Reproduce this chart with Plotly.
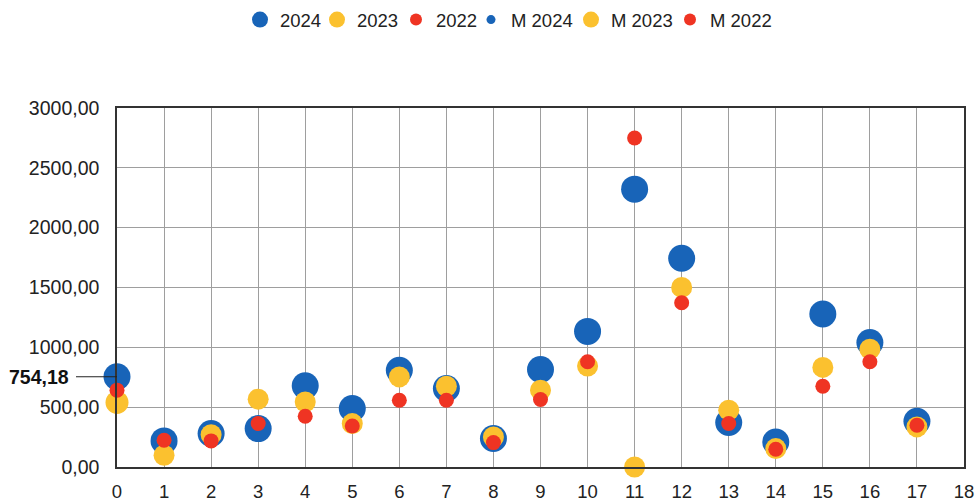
import plotly.graph_objects as go

# Positions 1..17 carry the yearly values; position 0 carries the averages (M series)
positions = list(range(1, 18))

values_2024 = [218, 280, 321, 678, 489, 809, 656, 238, 815, 1133, 2322, 1744, 372, 209, 1278, 1041, 382]
values_2023 = [98, 270, 567, 544, 363, 753, 675, 251, 642, 843, 0, 1501, 475, 154, 832, 985, 335]
values_2022 = [223, 218, 363, 424, 343, 558, 558, 204, 564, 879, 2749, 1373, 363, 148, 675, 879, 349]

mean_position = [0]
mean_2024 = [754.18]
mean_2023 = [540]
mean_2022 = [642]

x_ticks = list(range(0, 19))
y_ticks = [0, 500, 1000, 1500, 2000, 2500, 3000]

BLUE = "#1864b8"
YELLOW = "#fbc12f"
RED = "#ef3423"
FONT = "Liberation Sans, Arial, sans-serif"

fig = go.Figure()

# name, x, y, colour, marker size, legend symbol size, legend entry width
series = [
    ("2024", positions, values_2024, BLUE, 27, 18, 32),
    ("2023", positions, values_2023, YELLOW, 21, 17, 34),
    ("2022", positions, values_2022, RED, 15, 12, 30),
    ("M 2024", mean_position, mean_2024, BLUE, 27, 9, 55),
    ("M 2023", mean_position, mean_2023, YELLOW, 23, 18, 54),
    ("M 2022", mean_position, mean_2022, RED, 15, 12, 62),
]

for name, xs, ys, color, size, legend_size, legend_width in series:
    fig.add_trace(go.Scatter(
        x=xs, y=ys, mode="markers", name=name, legendgroup=name,
        showlegend=False, cliponaxis=False,
        marker=dict(color=color, size=size, line=dict(width=0)),
        hovertemplate="%{x}: %{y:.2f}<extra>" + name + "</extra>",
    ))
    # legend entry with its own symbol size
    fig.add_trace(go.Scatter(
        x=[None], y=[None], mode="markers", name=name, legendgroup=name,
        showlegend=True, legendwidth=legend_width,
        marker=dict(color=color, size=legend_size, line=dict(width=0)),
        hoverinfo="skip",
    ))

# average reference mark on the value axis
plot_left, plot_width = 117, 847
fig.add_shape(type="line", xref="paper", yref="y",
              x0=(76 - plot_left) / plot_width, x1=0,
              y0=mean_2024[0], y1=mean_2024[0],
              line=dict(color="#222222", width=1))
fig.add_annotation(xref="paper", yref="y", x=(71 - plot_left) / plot_width,
                   y=mean_2024[0], xanchor="right", yanchor="middle",
                   text="<b>" + f"{mean_2024[0]:.2f}".replace(".", ",") + "</b>",
                   showarrow=False, font=dict(family=FONT, size=19.5, color="#111111"))

fig.update_layout(
    width=977, height=501,
    margin=dict(l=117, r=13, t=108, b=34, autoexpand=False),
    paper_bgcolor="white", plot_bgcolor="white",
    separators=", ",
    font=dict(family=FONT, size=18, color="#222222"),
    showlegend=True,
    legend=dict(orientation="h", x=(240 - plot_left) / plot_width, xanchor="left",
                y=1.245, yanchor="middle",
                font=dict(family=FONT, size=18.5, color="#222222"),
                itemsizing="trace", tracegroupgap=0, bgcolor="rgba(0,0,0,0)"),
    hovermode="closest",
)

fig.update_xaxes(range=[0, 18], tickvals=x_ticks, showgrid=True, gridcolor="#9e9e9e",
                 gridwidth=1, zeroline=False, showline=True, linecolor="#333333",
                 linewidth=1.5, mirror=True, ticks="outside", ticklen=7,
                 tickcolor="rgba(0,0,0,0)", tickfont=dict(size=18.5))
fig.update_yaxes(range=[0, 3000], tickvals=y_ticks, tickformat=".2f", showgrid=True,
                 gridcolor="#9e9e9e", gridwidth=1, zeroline=False, showline=True,
                 linecolor="#333333", linewidth=1.5, mirror=True, ticks="outside",
                 ticklen=12, tickcolor="rgba(0,0,0,0)", tickfont=dict(size=19.5))

fig.write_html("out.html")
